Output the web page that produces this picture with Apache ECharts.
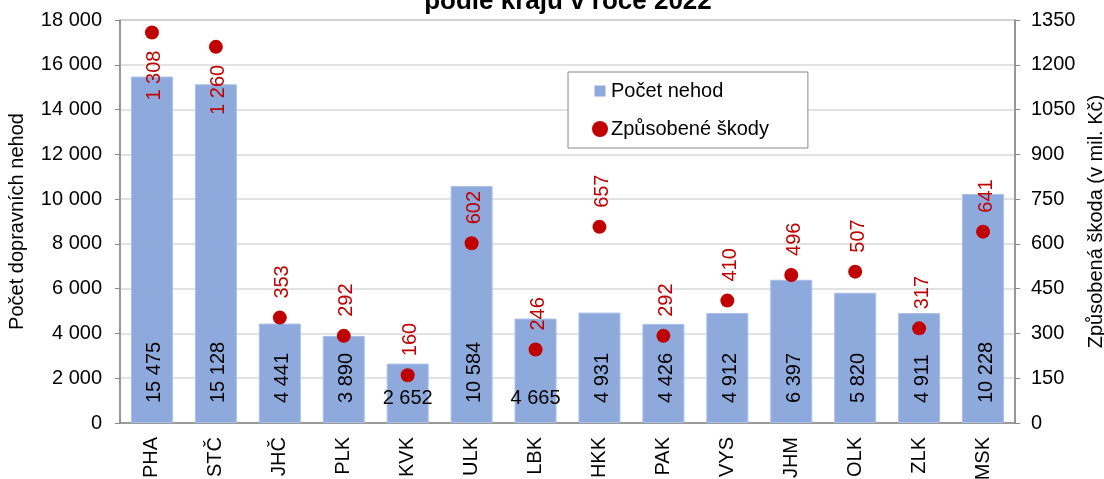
<!DOCTYPE html>
<html><head><meta charset="utf-8">
<script src="https://cdn.jsdelivr.net/npm/echarts@6/dist/echarts.min.js"></script>
<style>html,body{margin:0;padding:0;background:#fff}#c{width:1104px;height:479px}</style>
</head><body><div id="c"></div>
<script>
const categories = ['PHA','STČ','JHČ','PLK','KVK','ULK','LBK','HKK','PAK','VYS','JHM','OLK','ZLK','MSK'];
const accidents = [15475,15128,4441,3890,2652,10584,4665,4931,4426,4912,6397,5820,4911,10228];
const damages = [1308,1260,353,292,160,602,246,657,292,410,496,507,317,641];
const horizontalBarLabels = ['KVK','LBK'];
const labelBelowDot = ['PHA','STČ'];

const FONT = '"Liberation Sans", Arial, sans-serif';
const FS = 20;
const fmt = v => String(v).replace(/\B(?=(\d{3})+(?!\d))/g, ' ');

const barData = accidents.map((v, i) => {
  const d = { value: v };
  if (horizontalBarLabels.includes(categories[i])) {
    d.label = { rotate: 0, align: 'center', verticalAlign: 'bottom', distance: 15, position: 'insideBottom', offset: [0, 0] };
  }
  return d;
});
const dotData = damages.map((v, i) => {
  const d = { value: v };
  if (labelBelowDot.includes(categories[i])) {
    d.label = { position: 'bottom', align: 'right', distance: 11 };
  }
  return d;
});

const chart = echarts.init(document.getElementById('c'), null, { renderer: 'canvas' });
chart.setOption({
  animation: false,
  textStyle: { fontFamily: FONT },
  title: {
    text: 'podle krajů v roce 2022',
    left: 563, textAlign: 'center', top: -16,
    textStyle: { fontFamily: FONT, fontWeight: 'bold', fontSize: 26, color: '#000' }
  },
  legend: {
    orient: 'vertical',
    left: 568, top: 72,
    padding: [9, 39, 9, 24],
    borderColor: '#888', borderWidth: 1, backgroundColor: '#fff',
    itemGap: 18,
    itemWidth: 16, itemHeight: 16,
    textStyle: { fontFamily: FONT, fontSize: FS, color: '#000', padding: [0,0,0,-2] },
    data: [
      { name: 'Počet nehod', icon: 'path://M0,0M16,16M2.5,2.5L13.5,2.5L13.5,13.5L2.5,13.5Z', itemStyle: { color: '#8eaadc', borderWidth: 0 } },
      { name: 'Způsobené škody', icon: 'circle', itemStyle: { color: '#c00000', opacity: 1 } }
    ]
  },
  grid: { left: 120, right: 89, top: 20, bottom: 56, containLabel: false, outerBoundsMode: 'none',
          show: true, borderColor: '#888', borderWidth: 1 },
  xAxis: {
    type: 'category', data: categories,
    axisLine: { lineStyle: { color: '#888', width: 1.5 } },
    axisTick: { show: false },
    axisLabel: { rotate: 90, fontSize: FS, color: '#000', margin: 14, fontFamily: FONT }
  },
  yAxis: [
    {
      type: 'value', min: 0, max: 18000, interval: 2000,
      name: 'Počet dopravních nehod', nameLocation: 'middle', nameGap: 93, nameRotate: 90,
      nameTextStyle: { fontSize: FS, color: '#000', fontFamily: FONT },
      axisLine: { show: true, lineStyle: { color: '#888', width: 1.5 } },
      axisTick: { show: true, length: 5, lineStyle: { color: '#888' } },
      splitLine: { lineStyle: { color: '#d9d9d9', width: 1.5 } },
      axisLabel: { fontSize: FS, color: '#000', margin: 18, formatter: fmt, fontFamily: FONT }
    },
    {
      type: 'value', min: 0, max: 1350, interval: 150,
      name: 'Způsobená škoda (v mil. Kč)', nameLocation: 'middle', nameGap: 64, nameRotate: 90,
      nameTextStyle: { fontSize: FS, color: '#000', fontFamily: FONT },
      axisLine: { show: true, lineStyle: { color: '#888', width: 1.5 } },
      axisTick: { show: true, length: 5, lineStyle: { color: '#888' } },
      splitLine: { show: false },
      axisLabel: { fontSize: FS, color: '#000', margin: 16, formatter: v => String(v), fontFamily: FONT }
    }
  ],
  series: [
    {
      name: 'Počet nehod', type: 'bar', data: barData, yAxisIndex: 0,
      barWidth: 42,
      itemStyle: { color: '#8eaadc', borderColor: '#a9c0e8', borderWidth: 1 },
      label: {
        show: true, position: 'insideBottom', rotate: 90, align: 'left', verticalAlign: 'middle',
        distance: 20, fontSize: FS, color: '#000', fontFamily: FONT, offset: [0, 3],
        formatter: p => fmt(p.value)
      }
    },
    {
      name: 'Způsobené škody', type: 'scatter', data: dotData, yAxisIndex: 1,
      symbol: 'circle', symbolSize: 14,
      itemStyle: { color: '#c00000', opacity: 1 },
      label: {
        show: true, position: 'top', rotate: 90, align: 'left', verticalAlign: 'middle',
        distance: 12, fontSize: FS, color: '#c00000', fontFamily: FONT, offset: [0, 3],
        formatter: p => fmt(p.value)
      },
      z: 5
    }
  ]
});
</script></body></html>
